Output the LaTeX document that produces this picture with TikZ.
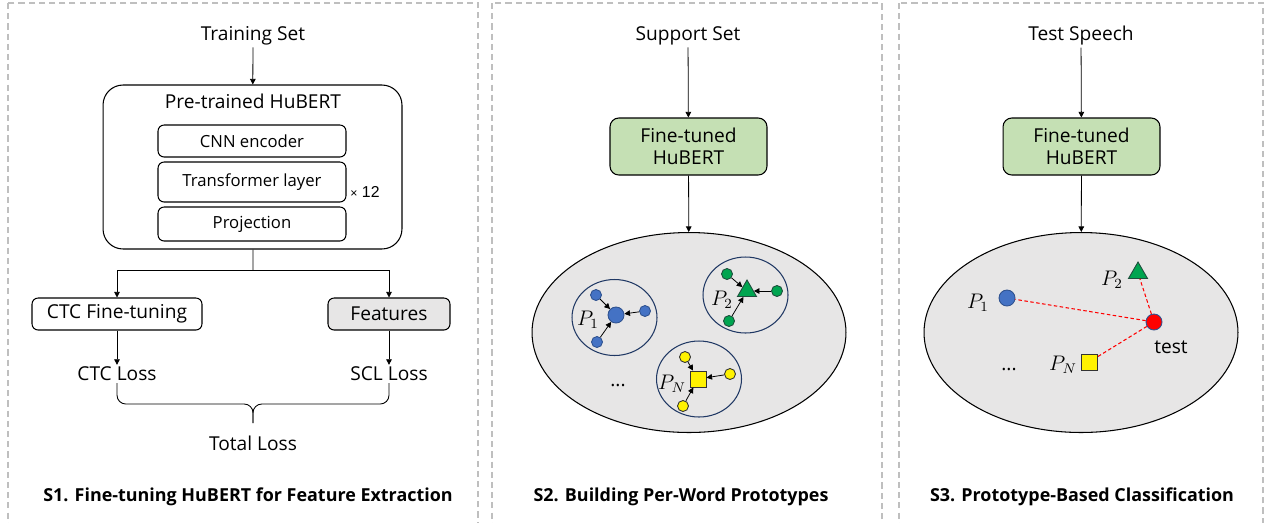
\documentclass[tikz,border=0pt]{standalone}
\usepackage{fontspec}
\setmainfont{Open Sans}
\newfontfamily\arialfont{Liberation Sans}
\usetikzlibrary{calc,positioning,shapes.geometric,arrows.meta}
\definecolor{panelgray}{HTML}{BFBFBF}
\definecolor{boxgray}{HTML}{E7E6E6}
\definecolor{tunedgreen}{HTML}{C5E0B4}
\definecolor{protoblue}{HTML}{4472C4}
\definecolor{blueline}{HTML}{2F528F}
\definecolor{protogreen}{HTML}{00A550}
\definecolor{greenline}{HTML}{1F4E3D}
\definecolor{navy}{HTML}{203864}

\begin{document}
\begin{tikzpicture}[x=0.02cm, y=-0.02cm, >={Triangle[length=3.2pt,width=3.2pt]},
    panel/.style={draw=panelgray, line width=0.7pt, dash pattern=on 3.5pt off 2.3pt},
    lbl/.style={font=\fontsize{10.9}{12}\selectfont, inner sep=1pt},
    block/.style={draw, rounded corners=3.5pt, line width=0.6pt, align=center,
            font=\fontsize{10.9}{12.5}\selectfont},
    layerbox/.style={block, minimum width=3.76cm, font=\fontsize{9.5}{11}\selectfont},
    tuned/.style={block, fill=tunedgreen, minimum width=3.14cm, minimum height=1.14cm,
            rounded corners=5pt},
    space/.style={ellipse, draw, fill=boxgray, minimum width=6.28cm, minimum height=4cm,
            line width=0.6pt},
    cluster/.style={ellipse, draw=navy, minimum width=1.7cm, minimum height=1.52cm,
            line width=0.6pt},
    protodot/.style={circle, draw=blueline, inner sep=0pt, minimum size=0.22cm, line width=0.5pt},
    centroid/.style={protodot, minimum size=0.32cm},
    tri/.style={regular polygon, regular polygon sides=3, draw=greenline, fill=protogreen,
            inner sep=0pt, minimum size=0.44cm, line width=0.5pt},
    sq/.style={rectangle, draw=black!80, fill=yellow, inner sep=0pt, minimum size=0.32cm,
            line width=0.5pt},
    plabel/.style={font=\fontsize{12}{13}\selectfont, inner sep=0pt},
    title/.style={font=\fontsize{10.2}{12}\selectfont\bfseries},
    link/.style={->, line width=0.45pt},
    dist/.style={red, line width=0.6pt, dash pattern=on 2pt off 1.4pt}]

  \useasboundingbox (0,0) rectangle (1271,522);
  \clip (0,0) rectangle (1271,522);

  % S1
  \draw[panel] (8,3) rectangle (478,545);
  \node[lbl] (train) at (253,36) {Training Set};
  \node[block, minimum width=5.98cm, minimum height=3.28cm, rounded corners=0.4cm] (pre) at (252.5,167) {};
  \node[lbl] (pretitle) at (253,101) {Pre-trained HuBERT};
  \node[layerbox, minimum height=0.64cm] (cnn) at (252,141) {CNN encoder};
  \node[layerbox, minimum height=0.8cm] (trans) at (252,182) {Transformer layer};
  \node[layerbox, minimum height=0.68cm] (proj) at (252,224) {Projection};
  \node[font=\arialfont\fontsize{9}{10}\selectfont, inner sep=0pt] (rep) at (365,192) {{\fontsize{7}{8}\selectfont ×} 12};
  \draw[link] (train) -- (pre);

  \node[block, minimum width=3.4cm, minimum height=0.64cm] (ctc) at (117,314) {CTC Fine-tuning};
  \node[block, fill=boxgray, minimum width=2.44cm, minimum height=0.64cm] (feat) at (389,314) {Features};
  \coordinate (split) at (253,270);
  \draw[line width=0.45pt] (pre) -- (split);
  \draw[link] (split) -| (ctc);
  \draw[link] (split) -| (feat);
  \node[lbl] (ctcloss) at (117,374) {CTC Loss};
  \node[lbl] (sclloss) at (389,374) {SCL Loss};
  \draw[link] (ctc) -- (ctcloss);
  \draw[link] (feat) -- (sclloss);
  \node[lbl] (total) at (253,443) {Total Loss};
  \coordinate (mid) at (253,404);
  \coordinate (tip) at (253,423);
  \draw[line width=0.5pt, rounded corners=5pt] (ctcloss.south) |- (mid) -- (tip);
  \draw[line width=0.5pt, rounded corners=5pt] (sclloss.south) |- (mid) -- (tip);
  \node[title] (s1) at (248,497) {S1. Fine-tuning HuBERT for Feature Extraction};

  % S2
  \draw[panel] (492,3) rectangle (882,545);
  \node[lbl] (support) at (688,36) {Support Set};
  \node[tuned] (tuned2) at (688.5,146.5) {Fine-tuned\\HuBERT};
  \node[space] (emb2) at (689,332.5) {};
  \draw[link] (support) -- (tuned2);
  \draw[link] (tuned2) -- (emb2);
  \node[cluster] (c1) at (614.5,317.5) {};
  \node[cluster] (c2) at (745.5,295) {};
  \node[cluster] (cN) at (699,379) {};
  \node[centroid, fill=protoblue] (p1) at (616,315) {};
  \node[tri] (p2) at (747,291) {};
  \node[sq] (pN) at (698,379) {};
  \foreach \n/\x/\y in {a/596/295, b/645/311, c/597/342}{
    \node[protodot, fill=protoblue] (p1\n) at (\x,\y) {};
    \draw[link] (p1\n) -- (p1);
  }
  \foreach \n/\x/\y in {a/727/274, b/777/291, c/729/321}{
    \node[protodot, fill=protogreen, draw=greenline] (p2\n) at (\x,\y) {};
    \draw[link] (p2\n) -- (p2);
  }
  \foreach \n/\x/\y in {a/685/357, b/730/374, c/683/406}{
    \node[protodot, fill=yellow, draw=black!80] (pN\n) at (\x,\y) {};
    \draw[link] (pN\n) -- (pN);
  }
  \node[plabel] (l1) at (588,320) {$P_1$};
  \node[plabel] (l2) at (722,300) {$P_2$};
  \node[plabel] (lN) at (672,384) {$P_N$};
  \node[lbl] (more2) at (618,385) {...};
  \node[title] (s2) at (681,497) {S2. Building Per-Word Prototypes};

  % S3
  \draw[panel] (899,3) rectangle (1263,545);
  \node[lbl] (speech) at (1081,36) {Test Speech};
  \node[tuned] (tuned3) at (1081.5,146.5) {Fine-tuned\\HuBERT};
  \node[space] (emb3) at (1081,332.5) {};
  \draw[link] (speech) -- (tuned3);
  \draw[link] (tuned3) -- (emb3);
  \node[centroid, fill=protoblue] (q1) at (1007,298) {};
  \node[tri] (q2) at (1138,273) {};
  \node[sq] (qN) at (1089,362) {};
  \node[centroid, fill=red] (test) at (1154,322) {};
  \draw[dist] (test) -- (q1);
  \draw[dist] (test) -- (q2);
  \draw[dist] (test) -- (qN);
  \node[plabel] (m1) at (978,303) {$P_1$};
  \node[plabel] (m2) at (1112,280) {$P_2$};
  \node[plabel] (mN) at (1063,365) {$P_N$};
  \node[lbl] (testlbl) at (1171,347) {test};
  \node[lbl] (more3) at (1009,369) {...};
  \node[title] (s3) at (1082,497) {S3. Prototype-Based Classification};
\end{tikzpicture}
\end{document}
